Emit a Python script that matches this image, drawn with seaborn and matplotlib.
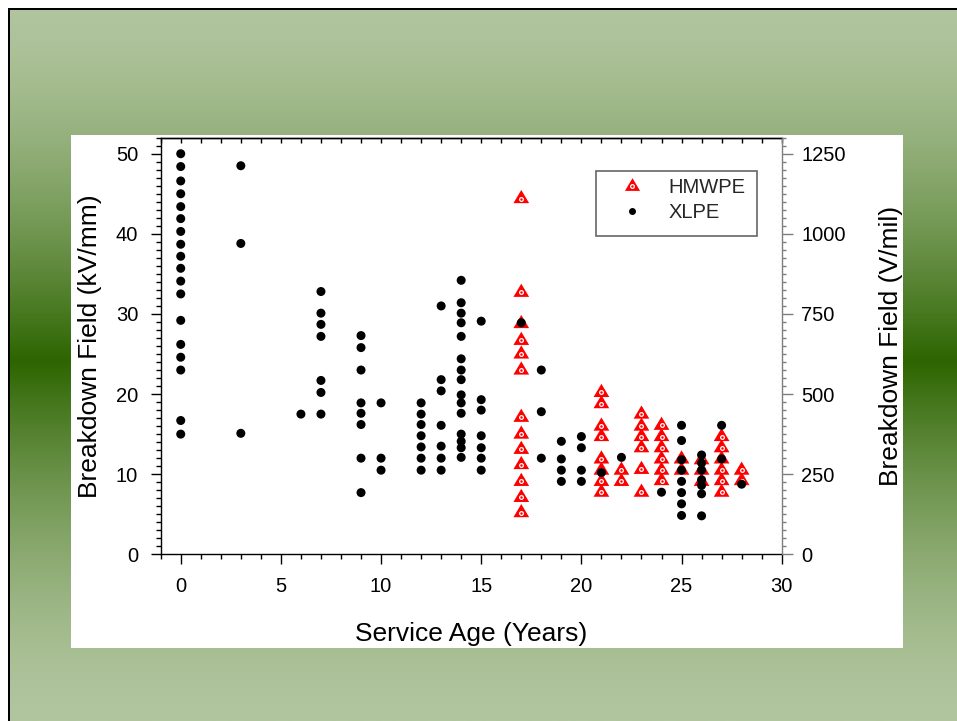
import numpy as np
import pandas as pd
import matplotlib
matplotlib.use("Agg")
import matplotlib.pyplot as plt
from matplotlib.path import Path
from matplotlib.lines import Line2D
from matplotlib.patches import Rectangle
from matplotlib.ticker import MultipleLocator
import seaborn as sns

# ---------------- data ----------------
xlpe_age = ([0] * 18 + [3] * 3 + [6] + [7] * 7 + [9] * 8 + [10] * 3 + [12] * 7 + [13] * 7
            + [14] * 15 + [15] * 7 + [17] + [18] * 3 + [19] * 4 + [20] * 4 + [21] + [22]
            + [24] + [25] * 8 + [26] * 7 + [27] * 2 + [28])
xlpe_field = [50.0, 48.4, 46.6, 45.0, 43.4, 41.9, 40.3, 38.7, 37.2, 35.7, 34.1, 32.5, 29.2, 26.2, 24.6, 23.0, 16.7, 15.0,
              48.5, 38.8, 15.1,
              17.5,
              32.8, 30.1, 28.7, 27.2, 21.7, 20.2, 17.5,
              27.3, 25.8, 23.0, 18.9, 17.6, 16.2, 12.0, 7.7,
              18.9, 12.0, 10.5,
              18.9, 17.5, 16.2, 14.8, 13.4, 12.0, 10.5,
              31.0, 21.8, 20.4, 16.1, 13.5, 12.0, 10.5,
              34.2, 31.4, 30.1, 28.9, 27.2, 24.4, 23.0, 21.8, 19.9, 18.9, 17.6, 15.0, 14.1, 13.3, 12.1,
              29.1, 19.3, 18.0, 14.8, 13.3, 12.0, 10.5,
              28.9,
              23.0, 17.8, 12.0,
              14.1, 11.9, 10.5, 9.1,
              14.7, 13.3, 10.5, 9.1,
              10.2,
              12.1,
              7.75,
              16.1, 14.2, 11.8, 10.5, 9.1, 7.7, 6.3, 4.85,
              12.4, 11.4, 10.5, 9.3, 8.6, 7.55, 4.8,
              16.1, 11.9,
              8.75]

hmwpe_age = ([17] * 13 + [21] * 8 + [22] * 2 + [23] * 6 + [24] * 6 + [25] * 2 + [26] * 3
             + [27] * 6 + [28] * 2)
hmwpe_field = [44.4, 32.7, 28.8, 26.7, 25.0, 23.0, 17.1, 15.0, 13.1, 11.2, 9.1, 7.1, 5.2,
               20.2, 18.8, 16.0, 14.7, 11.9, 10.5, 9.1, 7.75,
               10.5, 9.1,
               17.5, 16.0, 14.7, 13.3, 10.6, 7.75,
               16.1, 14.7, 13.3, 11.9, 10.5, 9.2,
               11.9, 10.5,
               11.8, 10.5, 9.1,
               14.7, 13.3, 11.9, 10.5, 9.2, 7.75,
               10.5, 9.2]

x_ticks = [0, 5, 10, 15, 20, 25, 30]
y_ticks = [0, 10, 20, 30, 40, 50]
y2_ticks = [0, 250, 500, 750, 1000, 1250]

xlpe = pd.DataFrame({"age": xlpe_age, "field": xlpe_field})
hmwpe = pd.DataFrame({"age": hmwpe_age, "field": hmwpe_field})

# ---------------- style ----------------
sns.set_style("white")
plt.rcParams["font.family"] = ["Liberation Sans", "DejaVu Sans"]
plt.rcParams["axes.edgecolor"] = "black"

W, H = 957, 721
fig = plt.figure(figsize=(W / 100, H / 100), dpi=100)

# ---------------- slide background ----------------
bg = fig.add_axes([0, 0, 1, 1], zorder=-10)
bg.set_xlim(0, W)
bg.set_ylim(H, 0)
bg.axis("off")
yy = np.arange(H)
t = np.abs(yy - 360) / 360.0
f = (1 - t) ** 1.6
light = np.array([177, 197, 158]) / 255.0
dark = np.array([45, 101, 0]) / 255.0
grad = light[None, :] * (1 - f[:, None]) + dark[None, :] * f[:, None]
bg.imshow(grad[:, None, :], extent=[0, W, H, 0], aspect="auto", interpolation="bilinear")
bg.add_patch(Rectangle((0, 0), W, 7.5, color="white", lw=0))
bg.add_patch(Rectangle((0, 0), 7.5, H, color="white", lw=0))
bg.add_patch(Rectangle((7.5, 7.5), W, 2.5, color="black", lw=0))
bg.add_patch(Rectangle((7.5, 7.5), 2.5, H, color="black", lw=0))
bg.add_patch(Rectangle((71, 135), 832, 513, color="white", lw=0))

# ---------------- main axes ----------------
L, R, T, B = 160.7, 781.7, 137.7, 554.3
ax = fig.add_axes([L / W, (H - B) / H, (R - L) / W, (B - T) / H])
ax.set_facecolor("white")

tri = Path([(-1.0, -0.58), (1.0, -0.58), (0.0, 1.1), (-1.0, -0.58)],
           [Path.MOVETO, Path.LINETO, Path.LINETO, Path.CLOSEPOLY])

sns.scatterplot(data=hmwpe, x="age", y="field", marker=tri, s=155, color="#ff0000",
                edgecolor="none", linewidth=0, ax=ax, zorder=3, legend=False)
sns.scatterplot(data=hmwpe, x="age", y="field", marker="o", s=7, color="#ff0000",
                edgecolor="white", linewidth=0.9, ax=ax, zorder=4, legend=False)
sns.scatterplot(data=xlpe, x="age", y="field", marker="o", s=42, color="black",
                edgecolor="none", linewidth=0, ax=ax, zorder=5, legend=False)

ax.set_xlim(-1, 30)
ax.set_ylim(0, 52)
ax.set_xticks(x_ticks)
ax.set_yticks(y_ticks)
ax.xaxis.set_minor_locator(MultipleLocator(1))
ax.yaxis.set_minor_locator(MultipleLocator(1))
ax.tick_params(which="major", direction="out", length=7.2, width=1, color="black",
               labelsize=14.5, labelcolor="black", pad=9, bottom=True, left=True, top=False, right=False)
ax.tick_params(which="minor", direction="out", length=3.6, width=1, color="black",
               bottom=True, left=True, top=False, right=False)
for s in ["left", "bottom", "top"]:
    ax.spines[s].set_color("black")
    ax.spines[s].set_linewidth(1.0)
ax.spines["right"].set_visible(False)

ax.set_xlabel("Service Age (Years)", fontsize=19, labelpad=19, color="black")
ax.set_ylabel("Breakdown Field (kV/mm)", fontsize=19, labelpad=10, color="black")

# top ticks (inward)
sec = ax.secondary_xaxis("top")
sec.xaxis.set_major_locator(MultipleLocator(1))
sec.tick_params(axis="x", which="both", direction="in", length=3.6, width=1,
                color="black", labeltop=False)
sec.spines["top"].set_linewidth(1.0)

# right axis in V/mil
ax2 = ax.twinx()
ax2.set_ylim(0, 1300)
ax2.set_yticks(y2_ticks)
ax2.yaxis.set_minor_locator(MultipleLocator(25))
ax2.tick_params(which="major", direction="out", length=8, width=1, color="#7f7f7f",
                labelsize=14.5, labelcolor="black", pad=6)
ax2.tick_params(which="minor", direction="out", length=3, width=1, color="#7f7f7f")
for s in ["left", "bottom", "top"]:
    ax2.spines[s].set_visible(False)
ax2.spines["right"].set_color("#7f7f7f")
ax2.spines["right"].set_linewidth(1.0)
ax2.set_ylabel("Breakdown Field (V/mil)", fontsize=19, labelpad=24, color="black")

# legend
h_tri = Line2D([], [], linestyle="none", marker=tri, markersize=12,
               markerfacecolor="#ff0000", markeredgewidth=0)
h_ring = Line2D([], [], linestyle="none", marker="o", markersize=2.65,
                markerfacecolor="#ff0000", markeredgecolor="white", markeredgewidth=0.9)
h_dot = Line2D([], [], linestyle="none", marker="o", markersize=5,
               markerfacecolor="black", markeredgewidth=0)
leg = ax2.legend([(h_tri, h_ring), h_dot], ["HMWPE", "XLPE"], loc="upper left",
                 bbox_to_anchor=((622 - L) / (R - L), (B - 178) / (B - T)),
                 frameon=False, fontsize=14.5, borderpad=0, borderaxespad=0,
                 handlelength=1.0, handletextpad=1.3, labelspacing=0.3)
ax2.add_patch(Rectangle(((596 - L) / (R - L), (B - 236) / (B - T)),
                        (757 - 596) / (R - L), (236 - 171) / (B - T),
                        transform=ax2.transAxes, facecolor="white", edgecolor="#666666",
                        lw=1.2, zorder=6, clip_on=False))
leg.set_zorder(7)

fig.savefig("out.png", dpi=100)
